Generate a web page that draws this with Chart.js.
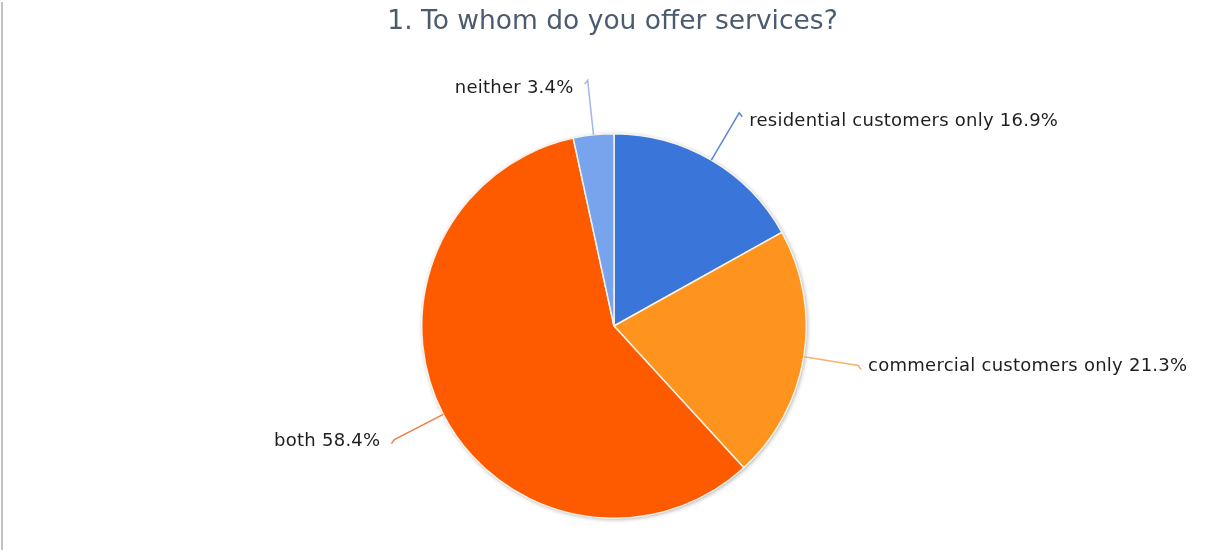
<!DOCTYPE html>
<html>
<head>
<meta charset="utf-8">
<script src="https://cdn.jsdelivr.net/npm/chart.js@4/dist/chart.umd.min.js"></script>
<style>
    body { margin: 0; background: #fff; }
    #wrap { width: 1225px; height: 550px; }
</style>
</head>
<body>
<div id="wrap"><canvas id="myChart" width="1225" height="550"></canvas></div>
<script>
const title = '1. To whom do you offer services?';
const categories = ['residential customers only', 'commercial customers only', 'both', 'neither'];
const shares = [16.9, 21.3, 58.4, 3.4];
const sliceColors = ['#3a76d9', '#fe931e', '#fe5a00', '#78a4ee'];
const lineColors = ['#5a86d6', '#f3b46c', '#f07e42', '#9fb8e4'];

const ctx = document.getElementById('myChart');
const labelFont = '18px "DejaVu Sans", Verdana, sans-serif';

// soft grey halo under the pie
const pieShadow = {
    id: 'pieShadow',
    beforeDatasetsDraw(chart) {
        const arc = chart.getDatasetMeta(0).data[0];
        if (!arc) return;
        const c = chart.ctx;
        c.save();
        c.shadowColor = 'rgba(0,0,0,0.35)';
        c.shadowBlur = 4;
        c.shadowOffsetX = 1;
        c.shadowOffsetY = 1;
        c.beginPath();
        c.arc(arc.x, arc.y, arc.outerRadius, 0, Math.PI * 2);
        c.fillStyle = '#fff';
        c.fill();
        c.restore();
    }
};

// leader lines + "name value%" labels, plus the title and the frame edge
const callouts = {
    id: 'callouts',
    afterDraw(chart) {
        const c = chart.ctx;
        const meta = chart.getDatasetMeta(0);
        c.save();

        c.fillStyle = '#c2c2c2';
        c.fillRect(1, 2, 2, chart.height - 2);

        c.font = '26.5px "DejaVu Sans", Verdana, sans-serif';
        c.fillStyle = '#4c5b6f';
        c.textAlign = 'center';
        c.textBaseline = 'alphabetic';
        c.fillText(title, chart.width / 2, 28.5);

        meta.data.forEach((arc, i) => {
            const mid = (arc.startAngle + arc.endAngle) / 2;
            const cos = Math.cos(mid), sin = Math.sin(mid);
            const r0 = arc.outerRadius;
            const r1 = r0 + 55;
            const x0 = arc.x + cos * r0, y0 = arc.y + sin * r0;
            const x1 = arc.x + cos * r1, y1 = arc.y + sin * r1;
            const right = cos >= 0;
            const dir = right ? 1 : -1;

            c.strokeStyle = lineColors[i];
            c.lineWidth = 1.5;
            c.beginPath();
            c.moveTo(x0, y0);
            c.lineTo(x1, y1);
            c.lineTo(x1 + dir * 3, y1 + 4);
            c.stroke();

            const upper = sin < -0.5;
            c.font = labelFont;
            c.letterSpacing = '0.25px';
            c.fillStyle = '#1e1e1e';
            c.textAlign = right ? 'left' : 'right';
            c.textBaseline = 'alphabetic';
            c.fillText(categories[i] + ' ' + shares[i].toFixed(1) + '%', x1 + dir * (right ? 10 : 14), y1 + (upper ? 13 : 6));
        });
        c.restore();
    }
};

const myChart = new Chart(ctx, {
    type: 'pie',
    data: {
        labels: categories,
        datasets: [{
            data: shares,
            backgroundColor: sliceColors,
            borderColor: 'rgba(250,246,238,0.95)',
            borderWidth: 1.5
        }]
    },
    options: {
        responsive: false,
        animation: false,
        layout: {
            padding: { top: 133, bottom: 31, left: 421, right: 418 }
        },
        plugins: {
            legend: { display: false },
            tooltip: { enabled: false }
        }
    },
    plugins: [pieShadow, callouts]
});
</script>
</body>
</html>
